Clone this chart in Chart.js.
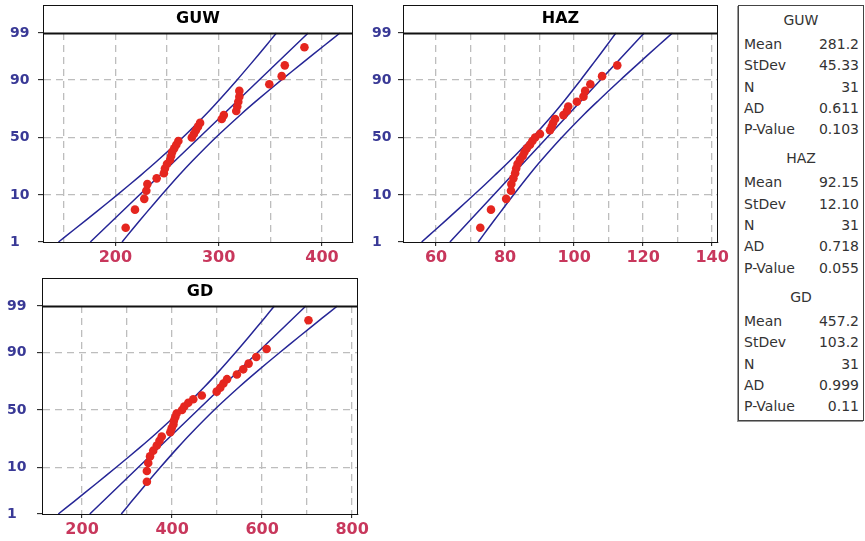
<!DOCTYPE html>
<html>
<head>
<meta charset="utf-8">
<script src="https://cdn.jsdelivr.net/npm/chart.js@4.4.1/dist/chart.umd.min.js"></script>
<style>
html, body { margin: 0; padding: 0; background: #fff; }
#wrap { position: relative; width: 865px; height: 541px; overflow: hidden; }
#wrap canvas { position: absolute; }
#stats { position: absolute; left: 738px; top: 5px; width: 126px; height: 416px; box-sizing: border-box;
  border: 1px solid #444; box-shadow: -1px 1px 0 #999; padding-top: 1px; font-family: 'DejaVu Sans', sans-serif; font-size: 14px; color: #333; }
#stats .grp { margin-bottom: 5px; }
#stats .hd { text-align: center; height: 27px; line-height: 27px; }
#stats .row { display: flex; justify-content: space-between; height: 21.3px; line-height: 21.3px; padding: 0 4px 0 5px; }
</style>
</head>
<body>
<div id="wrap">
  <canvas id="cGUW" width="365" height="270" style="left:0px;top:0px;"></canvas>
  <canvas id="cHAZ" width="372" height="270" style="left:360px;top:0px;"></canvas>
  <canvas id="cGD" width="372" height="269" style="left:0px;top:273px;"></canvas>
  <div id="stats"></div>
</div>
<script>
// ---------------- DATA ----------------
// Plotting positions (percent) of the 31 ordered observations
const PERCENTS = [2.23, 5.41, 8.60, 11.78, 14.97, 18.15, 21.34, 24.52, 27.71, 30.89, 34.08, 37.26, 40.45, 43.63, 46.82, 50.00,
                  53.18, 56.37, 59.55, 62.74, 65.92, 69.11, 72.29, 75.48, 78.66, 81.85, 85.03, 88.22, 91.40, 94.59, 97.77];
// Observed values (null = no point visible at that position)
const GUW_VALUES = [210, 219, 228, 230, 231, 240, 247, 248, 250, 253, 254, 255, 257, 259, 261, 274, 276, 278, 280, 282,
                    303, 305, 317, 318, 319, 320, 320, 349, 361, 364, 383];
const HAZ_VALUES = [72.8, 75.9, 80.3, 81.7, 81.8, 82.4, 82.9, 83.2, 83.6, 84.3, 85.1, 85.6, 86.3, 87.2, 87.9, 88.7, 90.1,
                    93.0, 93.5, 93.9, 94.5, 96.9, 97.9, 98.3, 100.8, 102.7, 103.2, 104.7, 108.1, 112.5, null];
const GD_VALUES = [null, 344, 344, 347, 351, 358, 366, 372, 377, 396, 399, 403, 404, 407, 410, 422, 427, 436, 447, 466,
                   499, 507, 514, 522, 544, 558, 570, 587, 610, null, 703];

// Fitted line (at 1% and 99%) and 95% confidence bands
const FIT_P = [1, 99];
const BAND_P = [1, 2, 5, 10, 20, 30, 50, 70, 80, 90, 95, 98, 99];
const GUW_FIT = [175.8, 386.6];
const GUW_LOWER = [145.0, 159.9, 182.2, 201.6, 224.5, 240.4, 265.2, 288.0, 300.8, 317.8, 331.3, 346.2, 355.9];
const GUW_UPPER = [206.5, 216.2, 231.1, 244.7, 261.6, 274.5, 297.2, 322.0, 337.9, 360.8, 380.3, 402.5, 417.4];
const HAZ_FIT = [64.0, 120.3];
const HAZ_LOWER = [55.8, 59.8, 65.7, 70.9, 77.0, 81.3, 87.9, 94.0, 97.4, 101.9, 105.5, 109.5, 112.1];
const HAZ_UPPER = [72.2, 74.8, 78.8, 82.4, 86.9, 90.3, 96.4, 103.0, 107.3, 113.4, 118.6, 124.5, 128.5];
const GD_FIT = [217.2, 697.2];
const GD_LOWER = [147.2, 181.2, 231.7, 275.9, 328.1, 364.3, 420.9, 472.6, 501.8, 540.4, 571.2, 605.1, 627.3];
const GD_UPPER = [287.1, 309.3, 343.2, 374.0, 412.6, 441.8, 493.5, 550.1, 586.3, 638.5, 682.7, 733.2, 767.2];

// Axis ticks
const Y_TICKS = [1, 10, 50, 90, 99];
const GUW_X_GRID = [150, 200, 250, 300, 350, 400];
const GUW_X_LABELS = [200, 300, 400];
const HAZ_X_GRID = [60, 70, 80, 90, 100, 110, 120, 130, 140];
const HAZ_X_LABELS = [60, 80, 100, 120, 140];
const GD_X_GRID = [200, 300, 400, 500, 600, 700, 800];
const GD_X_LABELS = [200, 400, 600, 800];

// Summary table
const STAT_NAMES = ['Mean', 'StDev', 'N', 'AD', 'P-Value'];
const GUW_STATS = ['281.2', '45.33', '31', '0.611', '0.103'];
const HAZ_STATS = ['92.15', '12.10', '31', '0.718', '0.055'];
const GD_STATS = ['457.2', '103.2', '31', '0.999', '0.11'];

// ---------------- NORMAL PROBABILITY SCALE ----------------
function probit(p) {
  const a = [-3.969683028665376e+01, 2.209460984245205e+02, -2.759285104469687e+02, 1.383577518672690e+02, -3.066479806614716e+01, 2.506628277459239e+00];
  const b = [-5.447609879822406e+01, 1.615858368580409e+02, -1.556989798598866e+02, 6.680131188771972e+01, -1.328068155288572e+01];
  const c = [-7.784894002430293e-03, -3.223964580411365e-01, -2.400758277161838e+00, -2.549732539343734e+00, 4.374664141464968e+00, 2.938163982698783e+00];
  const d = [7.784695709041462e-03, 3.224671290700398e-01, 2.445134137142996e+00, 3.754408661907416e+00];
  const pl = 0.02425, ph = 1 - pl;
  let q, r;
  if (p < pl) {
    q = Math.sqrt(-2 * Math.log(p));
    return (((((c[0]*q+c[1])*q+c[2])*q+c[3])*q+c[4])*q+c[5]) / ((((d[0]*q+d[1])*q+d[2])*q+d[3])*q+1);
  }
  if (p <= ph) {
    q = p - 0.5; r = q * q;
    return (((((a[0]*r+a[1])*r+a[2])*r+a[3])*r+a[4])*r+a[5])*q / (((((b[0]*r+b[1])*r+b[2])*r+b[3])*r+b[4])*r+1);
  }
  q = Math.sqrt(-2 * Math.log(1 - p));
  return -(((((c[0]*q+c[1])*q+c[2])*q+c[3])*q+c[4])*q+c[5]) / ((((d[0]*q+d[1])*q+d[2])*q+d[3])*q+1);
}
function normCdf(z) {
  const t = 1 / (1 + 0.2316419 * Math.abs(z));
  const y = 0.3989423 * Math.exp(-z * z / 2) * t * (0.3193815 + t * (-0.3565638 + t * (1.781478 + t * (-1.821256 + t * 1.330274))));
  return z > 0 ? 1 - y : y;
}
class ProbabilityScale extends Chart.LinearScale {
  determineDataLimits() { this.min = Y_TICKS[0]; this.max = Y_TICKS[Y_TICKS.length - 1]; }
  buildTicks() { this.start = this.min; this.end = this.max; return Y_TICKS.map(v => ({ value: v })); }
  configure() { super.configure(); this._zStart = probit(this.min / 100); this._zEnd = probit(this.max / 100); }
  getPixelForValue(v) {
    if (v === null || v === undefined || isNaN(v)) return NaN;
    const z = probit(v / 100);
    return this.getPixelForDecimal((z - this._zStart) / (this._zEnd - this._zStart));
  }
  getValueForPixel(px) {
    const z = this._zStart + this.getDecimalForPixel(px) * (this._zEnd - this._zStart);
    return 100 * normCdf(z);
  }
}
ProbabilityScale.id = 'probability';
ProbabilityScale.defaults = {};
Chart.register(ProbabilityScale);

Chart.defaults.font.family = "'DejaVu Sans', sans-serif";

// frame around plot area + title band
const framePlugin = {
  id: 'frame',
  afterDraw(chart, args, opts) {
    const { ctx, chartArea: a } = chart;
    const top = a.top - opts.band;
    ctx.save();
    ctx.strokeStyle = '#111';
    ctx.lineWidth = 1;
    ctx.strokeRect(Math.round(a.left) + 0.5, Math.round(top) + 0.5, Math.round(a.right - a.left) - 1, Math.round(a.bottom - top));
    ctx.lineWidth = 1.8;
    ctx.beginPath();
    ctx.moveTo(a.left, Math.round(a.top) + 0.5);
    ctx.lineTo(a.right, Math.round(a.top) + 0.5);
    ctx.stroke();
    ctx.restore();
  }
};

const LINE_COLOR = '#262696';
const POINT_COLOR = '#e5261f';
const GRID_COLOR = '#bdbdbd';

function pairs(xs, ps) {
  return xs.map((x, i) => ({ x: x, y: ps[i] })).filter(p => p.x !== null);
}

function makePanel(id, title, values, fit, lower, upper, xmin, xmax, xGrid, xLabels, pad, yWidth) {
  const lineDs = (data) => ({
    data: data, showLine: true, pointRadius: 0, borderColor: LINE_COLOR, borderWidth: 1.5,
    tension: 0.3, fill: false
  });
  return new Chart(document.getElementById(id), {
    type: 'scatter',
    data: {
      datasets: [
        { data: pairs(values, PERCENTS), pointRadius: 4.3, pointBackgroundColor: POINT_COLOR, pointBorderWidth: 0, showLine: false },
        lineDs(pairs(fit, FIT_P)),
        lineDs(pairs(lower, BAND_P)),
        lineDs(pairs(upper, BAND_P))
      ]
    },
    options: {
      responsive: false,
      animation: false,
      devicePixelRatio: 1,
      events: [],
      layout: { padding: pad },
      plugins: {
        legend: { display: false },
        tooltip: { enabled: false },
        title: {
          display: true, text: title, fullSize: false, color: '#000',
          font: { size: 16, weight: 'bold', lineHeight: 1.125 }, padding: { top: 5, bottom: 5 }
        },
        frame: { band: 28 }
      },
      scales: {
        x: {
          type: 'linear', position: 'bottom', min: xmin, max: xmax,
          afterBuildTicks: (ax) => { ax.ticks = xGrid.map(v => ({ value: v })); },
          afterFit: (ax) => { ax.height = 28; },
          ticks: {
            autoSkip: false, maxRotation: 0, padding: 2, color: '#c8375c',
            font: { size: 16, weight: 'bold' },
            callback: (v) => xLabels.includes(v) ? String(v) : ''
          },
          grid: {
            color: GRID_COLOR, lineWidth: 1.3, tickLength: 4, tickWidth: 1,
            tickColor: (ctx) => (ctx.tick && xLabels.includes(ctx.tick.value)) ? '#111' : 'rgba(0,0,0,0)'
          },
          border: { display: true, color: '#111', width: 1, dash: [7, 5] }
        },
        y: {
          type: 'probability', position: 'left',
          afterFit: (ax) => { ax.width = yWidth; },
          ticks: {
            crossAlign: 'far', padding: 2, color: '#393996',
            font: { size: 14, weight: 'bold' },
            callback: (v) => String(v)
          },
          grid: {
            color: (ctx) => (ctx.tick && (ctx.tick.value === 1 || ctx.tick.value === 99)) ? 'rgba(0,0,0,0)' : GRID_COLOR,
            lineWidth: 1.3, tickLength: 5, tickWidth: 1, tickColor: '#111'
          },
          border: { display: true, color: '#111', width: 1, dash: [7, 5] }
        }
      }
    },
    plugins: [framePlugin]
  });
}

makePanel('cGUW', 'GUW', GUW_VALUES, GUW_FIT, GUW_LOWER, GUW_UPPER, 130, 430, GUW_X_GRID, GUW_X_LABELS,
  { left: 10, top: 5, right: 12, bottom: 0 }, 33);
makePanel('cHAZ', 'HAZ', HAZ_VALUES, HAZ_FIT, HAZ_LOWER, HAZ_UPPER, 50.4, 141.7, HAZ_X_GRID, HAZ_X_LABELS,
  { left: 12, top: 5, right: 14, bottom: 0 }, 31);
makePanel('cGD', 'GD', GD_VALUES, GD_FIT, GD_LOWER, GD_UPPER, 111, 813, GD_X_GRID, GD_X_LABELS,
  { left: 7, top: 5, right: 14, bottom: 0 }, 35);

// ---------------- STATS TABLE ----------------
const statsEl = document.getElementById('stats');
[['GUW', GUW_STATS], ['HAZ', HAZ_STATS], ['GD', GD_STATS]].forEach(([name, vals]) => {
  const g = document.createElement('div');
  g.className = 'grp';
  const h = document.createElement('div');
  h.className = 'hd';
  h.textContent = name;
  g.appendChild(h);
  STAT_NAMES.forEach((n, i) => {
    const r = document.createElement('div');
    r.className = 'row';
    const a = document.createElement('span'); a.textContent = n;
    const b = document.createElement('span'); b.textContent = vals[i];
    r.appendChild(a); r.appendChild(b);
    g.appendChild(r);
  });
  statsEl.appendChild(g);
});
</script>
</body>
</html>
